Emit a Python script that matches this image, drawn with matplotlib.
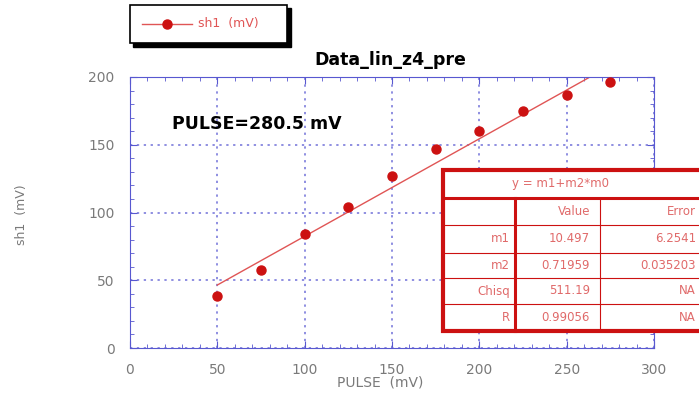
import numpy as np
import matplotlib
matplotlib.use('Agg')
from matplotlib import pyplot as plt
from matplotlib.patches import Rectangle
from matplotlib.lines import Line2D

# data
pulse = [50, 75, 100, 125, 150, 175, 200, 225, 250, 275]
sh1 = [38.4, 57.6, 84.5, 104.3, 127.0, 147.0, 160.0, 175.0, 186.5, 196.0]

fit_title = 'y = m1+m2*m0'
row_names = ['m1', 'm2', 'Chisq', 'R']
row_values = ['10.497', '0.71959', '511.19', '0.99056']
row_errors = ['6.2541', '0.035203', 'NA', 'NA']
m1, m2 = 10.497, 0.71959

W, H = 699, 398
RED = '#cc1111'
LRED = '#e05555'
BLUE = '#5858d0'
GREY = '#7a7a7a'


def fx(x):
    return x / W


def fy(y):
    return 1 - y / H


fig = plt.figure(figsize=(W / 100, H / 100), dpi=100)
ax = fig.add_axes([fx(130), fy(348), fx(654) - fx(130), fy(77) - fy(348)])

xs = np.array([pulse[0], pulse[-1]])
ax.plot(xs, m1 + m2 * xs, color=LRED, lw=1, zorder=2)
ax.plot(pulse, sh1, 'o', color=RED, ms=6.5, zorder=3)

ax.set_xlim(0, 300)
ax.set_ylim(0, 200)
ax.set_xticks(np.arange(0, 301, 50))
ax.set_yticks(np.arange(0, 201, 50))
ax.set_xticks(np.arange(0, 301, 10), minor=True)
ax.set_yticks(np.arange(0, 201, 10), minor=True)
ax.tick_params(which='both', direction='in', color=BLUE, top=True, right=True,
               labelcolor=GREY, labelsize=10)
ax.tick_params(which='major', length=5, pad=11)
ax.tick_params(which='minor', length=3)
for s in ax.spines.values():
    s.set_color(BLUE)
ax.grid(True, which='major', color='#7070d8', ls=(0, (1.5, 3)), lw=1.1)

ax.text(24, 165, 'PULSE=280.5 mV', fontsize=12.5, fontweight='bold', va='center')
fig.text(fx(390), fy(60), 'Data_lin_z4_pre', fontsize=12.5, fontweight='bold',
         ha='center', va='center')
fig.text(fx(380), fy(383), 'PULSE  (mV)', fontsize=10, color=GREY,
         ha='center', va='center')
fig.text(fx(22), fy(215), 'sh1  (mV)', fontsize=9, color=GREY, rotation=90,
         ha='center', va='center')

# legend box with shadow
fig.add_artist(Rectangle((fx(133), fy(47)), fx(291) - fx(133), fy(8) - fy(47),
                         transform=fig.transFigure, fc='black', ec='black'))
fig.add_artist(Rectangle((fx(130), fy(43)), fx(287) - fx(130), fy(5) - fy(43),
                         transform=fig.transFigure, fc='white', ec='black', lw=1.2))
fig.add_artist(Line2D([fx(142), fx(192)], [fy(24), fy(24)], color=LRED, lw=1,
                      transform=fig.transFigure))
fig.add_artist(Line2D([fx(167)], [fy(24)], marker='o', color=RED, ms=6.5,
                      transform=fig.transFigure))
fig.text(fx(198), fy(24), 'sh1  (mV)', fontsize=9, color=LRED, va='center')

# fit results table
tx0, tx1 = 443, 705
cols = [443, 515, 600, 705]
rows = [170, 198, 225, 253, 278, 304, 331]
fig.add_artist(Rectangle((fx(tx0), fy(rows[-1])), fx(tx1) - fx(tx0), fy(rows[0]) - fy(rows[-1]),
                         transform=fig.transFigure, fc='white', ec=RED, lw=3, zorder=5))
for i, y in enumerate(rows[1:-1]):
    fig.add_artist(Line2D([fx(tx0), fx(tx1)], [fy(y), fy(y)], color=RED,
                          lw=2.2 if i == 0 else 0.8, transform=fig.transFigure, zorder=6))
for i, x in enumerate(cols[1:3]):
    fig.add_artist(Line2D([fx(x), fx(x)], [fy(rows[1]), fy(rows[-1])], color=RED,
                          lw=2.2 if i == 0 else 0.8, transform=fig.transFigure, zorder=6))

tk = dict(fontsize=8.5, color='#e06a6a', va='center', ha='right', zorder=7)
fig.text(fx(560), fy((rows[0] + rows[1]) / 2), fit_title, fontsize=8.5, color='#e06a6a',
         va='center', ha='center', zorder=7)
fig.text(fx(cols[2] - 10), fy((rows[1] + rows[2]) / 2), 'Value', **tk)
fig.text(fx(696), fy((rows[1] + rows[2]) / 2), 'Error', **tk)
for i in range(len(row_names)):
    yc = fy((rows[i + 2] + rows[i + 3]) / 2)
    fig.text(fx(cols[1] - 5), yc, row_names[i], **tk)
    fig.text(fx(cols[2] - 10), yc, row_values[i], **tk)
    fig.text(fx(696), yc, row_errors[i], **tk)

fig.savefig('out.png', dpi=100)
